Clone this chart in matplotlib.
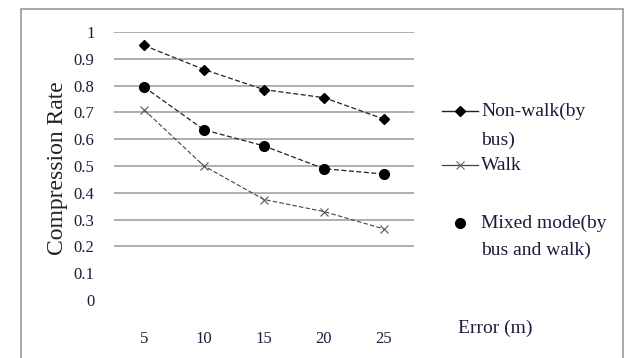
import matplotlib.pyplot as plt
from matplotlib.lines import Line2D
from matplotlib.patches import Rectangle

# data
errors = ['5', '10', '15', '20', '25']
non_walk = [0.95, 0.86, 0.785, 0.755, 0.675]
walk = [0.71, 0.50, 0.375, 0.33, 0.265]
mixed = [0.795, 0.635, 0.575, 0.49, 0.47]
y_ticks = [0, 0.1, 0.2, 0.3, 0.4, 0.5, 0.6, 0.7, 0.8, 0.9, 1]
y_labels = ['0', '0.1', '0.2', '0.3', '0.4', '0.5', '0.6', '0.7', '0.8', '0.9', '1']

plt.rcParams['font.family'] = ['Liberation Serif', 'DejaVu Serif']
W, H = 633, 358
fig = plt.figure(figsize=(W / 100, H / 100), dpi=100)

def fx(px):
    return px / W

def fy(py):
    return 1 - py / H

TXT = '#1c1c3a'

# outer frame of the chart area
fig.patches.append(Rectangle((fx(21), fy(365)), fx(602), (365 - 9) / H,
                             transform=fig.transFigure, fill=False,
                             edgecolor='#9a9a9a', lw=1.2))

ax = fig.add_axes([fx(114), fy(300), fx(300), (300 - 32) / H])
x = range(len(errors))
ax.plot(x, non_walk, color='#222222', ls=(0, (4, 2)), lw=0.9,
        marker='D', ms=5.5, mfc='black', mec='black')
ax.plot(x, walk, color='#444444', ls=(0, (4, 2)), lw=0.8,
        marker='x', ms=6, mec='#555555', mew=0.8)
ax.plot(x, mixed, color='#222222', ls=(0, (4, 2)), lw=0.9,
        marker='o', ms=7, mfc='black', mec='black')

ax.set_xlim(-0.5, len(errors) - 0.5)
ax.set_ylim(0, 1)
ax.set_xticks(list(x))
ax.set_xticklabels(errors)
ax.set_yticks(y_ticks)
ax.set_yticklabels(y_labels)
ax.tick_params(length=0, labelsize=12, labelcolor=TXT)
ax.tick_params(axis='x', pad=22)
ax.tick_params(axis='y', pad=14)
for s in ax.spines.values():
    s.set_visible(False)
for t in y_ticks[2:]:
    ax.axhline(t, color='#9a9a9a', lw=1.1, zorder=0)
ax.set_ylabel('Compression Rate', fontsize=17, color='#222222')
ax.yaxis.set_label_coords((68 - 114) / 300, (300 - 168) / (300 - 32))

# x axis title placed to the right of the plot
fig.text(fx(458), fy(328), 'Error (m)', fontsize=14, va='center', ha='left', color=TXT)

# legend drawn by hand, handles aligned to the first text line
fig.add_artist(Line2D([fx(442), fx(478)], [fy(111)] * 2, transform=fig.transFigure,
                      color='#222222', lw=1))
fig.add_artist(Line2D([fx(460)], [fy(111)], transform=fig.transFigure,
                      marker='D', ms=5.5, color='black'))
fig.add_artist(Line2D([fx(442), fx(478)], [fy(165)] * 2, transform=fig.transFigure,
                      color='#444444', lw=0.9))
fig.add_artist(Line2D([fx(460)], [fy(165)], transform=fig.transFigure,
                      marker='x', ms=6, mec='#666666', mew=0.8, lw=0))
fig.add_artist(Line2D([fx(460)], [fy(223)], transform=fig.transFigure,
                      marker='o', ms=7, color='black', lw=0))

for txt, py in [('Non-walk(by', 111), ('bus)', 140), ('Walk', 165),
                ('Mixed mode(by', 223), ('bus and walk)', 250)]:
    fig.text(fx(481), fy(py), txt, fontsize=14, va='center', color=TXT)

fig.savefig('out.png', dpi=100)
